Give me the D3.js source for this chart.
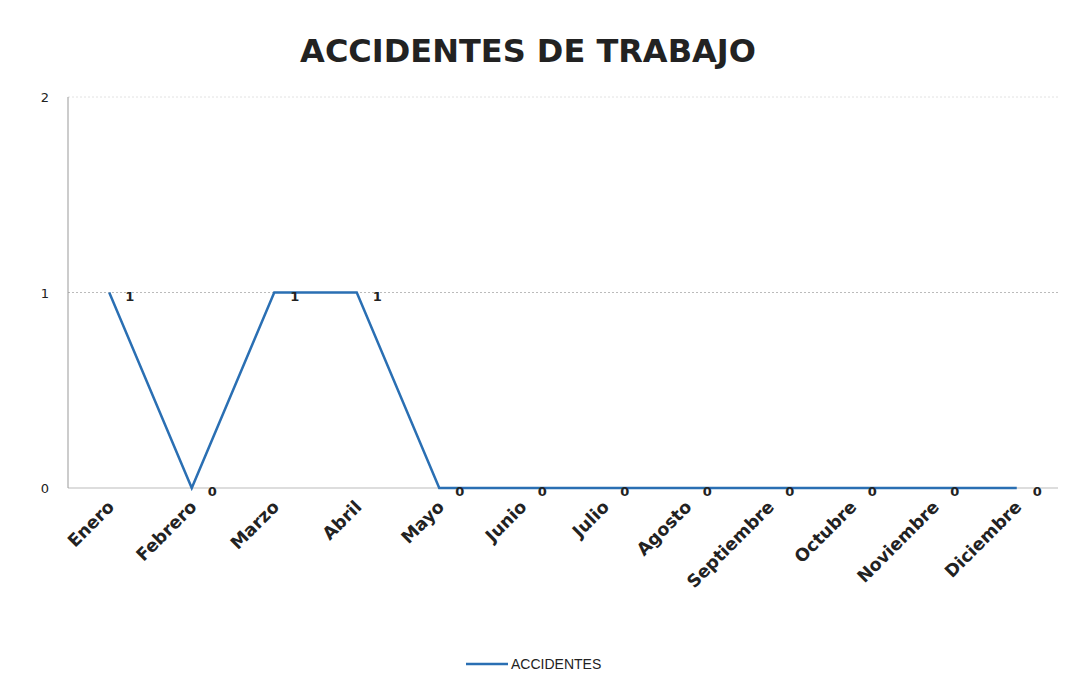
<!DOCTYPE html>
<html>
<head>
<meta charset="utf-8">
<script src="https://cdn.jsdelivr.net/npm/d3@7"></script>
<style>
  body { margin: 0; background: #fff; }
  text { font-family: "DejaVu Sans", Verdana, sans-serif; }
</style>
</head>
<body>
<script>
var months = ["Enero", "Febrero", "Marzo", "Abril", "Mayo", "Junio", "Julio",
    "Agosto", "Septiembre", "Octubre", "Noviembre", "Diciembre"];
var accidentes = [1, 0, 1, 1, 0, 0, 0, 0, 0, 0, 0, 0];
var yTicks = [0, 1, 2];
var seriesName = "ACCIDENTES";
var title = "ACCIDENTES DE TRABAJO";

var w = 1066;
var h = 688;
var plotLeft = 68, plotRight = 1058, plotTop = 97, plotBottom = 488;

var svg = d3.select("body")
    .append("svg")
    .attr("width", w)
    .attr("height", h);

var x = d3.scalePoint()
    .domain(months)
    .range([plotLeft, plotRight])
    .padding(0.5);

var y = d3.scaleLinear()
    .domain([0, 2])
    .range([plotBottom, plotTop]);

// title
svg.append("text")
    .attr("x", 528)
    .attr("y", 62)
    .attr("text-anchor", "middle")
    .style("font-size", "32px")
    .style("font-weight", "bold")
    .attr("fill", "#222")
    .text(title);

// gridlines
svg.selectAll(".grid")
    .data(yTicks)
    .enter()
    .append("line")
    .attr("x1", plotLeft)
    .attr("x2", plotRight)
    .attr("y1", function(d) { return y(d); })
    .attr("y2", function(d) { return y(d); })
    .attr("stroke", function(d) { return d === 2 ? "#e2e2e2" : "#bbb"; })
    .attr("stroke-width", 1)
    .attr("stroke-dasharray", function(d) { return d === 0 ? null : "2,2"; });

// y axis line
svg.append("line")
    .attr("x1", plotLeft).attr("x2", plotLeft)
    .attr("y1", plotTop).attr("y2", plotBottom)
    .attr("stroke", "#999");

// y tick labels
svg.selectAll(".ytick")
    .data(yTicks)
    .enter()
    .append("text")
    .attr("x", 49)
    .attr("y", function(d) { return y(d) + 5; })
    .attr("text-anchor", "end")
    .style("font-size", "13px")
    .attr("fill", "#222")
    .text(function(d) { return d; });

// x labels rotated
svg.selectAll(".xlab")
    .data(months)
    .enter()
    .append("text")
    .attr("transform", function(d) {
        return "translate(" + (x(d) + 6) + "," + (plotBottom + 20) + ") rotate(-45)";
    })
    .attr("text-anchor", "end")
    .style("font-size", "17.5px")
    .style("font-weight", "bold")
    .attr("fill", "#222")
    .text(function(d) { return d; });

// line
var line = d3.line()
    .x(function(d, i) { return x(months[i]); })
    .y(function(d) { return y(d); });

svg.append("path")
    .datum(accidentes)
    .attr("d", line)
    .attr("fill", "none")
    .attr("stroke", "#2a6fb3")
    .attr("stroke-width", 2.5);

// data labels
svg.selectAll(".dlab")
    .data(accidentes)
    .enter()
    .append("text")
    .attr("x", function(d, i) { return x(months[i]) + 16; })
    .attr("y", function(d) { return y(d) + 8; })
    .style("font-size", "13px")
    .style("font-weight", "bold")
    .attr("fill", "#222")
    .text(function(d) { return d; });

// legend
svg.append("line")
    .attr("x1", 466).attr("x2", 508)
    .attr("y1", 664).attr("y2", 664)
    .attr("stroke", "#2a6fb3")
    .attr("stroke-width", 2.5);

svg.append("text")
    .attr("x", 511)
    .attr("y", 669)
    .style("font-family", "'Liberation Sans', Arial, sans-serif")
    .style("font-size", "14px")
    .attr("fill", "#222")
    .text(seriesName);
</script>
</body>
</html>
